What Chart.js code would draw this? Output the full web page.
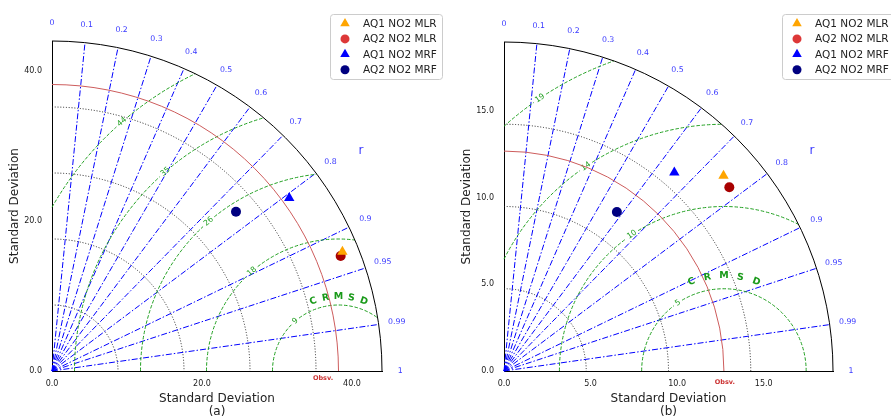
<!DOCTYPE html>
<html>
<head>
<meta charset="utf-8">
<script src="https://cdn.jsdelivr.net/npm/chart.js@4.4.1/dist/chart.umd.min.js"></script>
<style>
    html, body { margin: 0; padding: 0; background: #fff; }
    #wrap { position: relative; width: 891px; height: 416px; overflow: hidden; }
    canvas { position: absolute; top: 0; }
    #chartA { left: 0; }
    #chartB { left: 450px; }
</style>
</head>
<body>
<div id="wrap">
    <canvas id="chartA" width="450" height="416"></canvas>
    <canvas id="chartB" width="441" height="416"></canvas>
</div>
<script>
// ---- data ----
const seriesNames = ["AQ1 NO2 MLR", "AQ2 NO2 MLR", "AQ1 NO2 MRF", "AQ2 NO2 MRF"];

// panel (a)
const stdA = [41.86, 41.43, 39.15, 32.45];
const corrA = [0.925, 0.929, 0.808, 0.756];
const refStdA = 38.2;
const maxStdA = 44;
const axisTicksA = [0, 20, 40];
const sdGridA = [8.8, 17.6, 26.4, 35.2];
const rmsLevelsA = [8.8, 17.6, 26.4, 35.2, 44];

// panel (b)
const stdB = [16.97, 16.79, 15.11, 11.26];
const corrB = [0.747, 0.775, 0.651, 0.579];
const refStdB = 12.7;
const maxStdB = 19;
const axisTicksB = [0, 5, 10, 15];
const sdGridB = [4.75, 9.5, 14.25];
const rmsLevelsB = [4.75, 9.5, 14.25, 19];

const corrTicks = [0, 0.1, 0.2, 0.3, 0.4, 0.5, 0.6, 0.7, 0.8, 0.9, 0.95, 0.99, 1];

// ---- styles ----
const markerStyles = ["triangle", "circle", "triangle", "circle"];
const markerSizes = [6, 5, 6, 5];
const markerColors = ["#ffa500", "#a80000", "#0000ff", "#000080"];
const legendColors = ["#ffa500", "#dd3838", "#0000ff", "#000080"];
const FONT = "'DejaVu Sans', sans-serif";
const GREEN = "#22a022";
const BLUE_TXT = "#3a3aff";

Chart.defaults.font.family = FONT;

function drawMarker(ctx, style, r, x, y, color) {
    ctx.fillStyle = color;
    if (Chart.helpers && Chart.helpers.drawPoint) {
        Chart.helpers.drawPoint(ctx, { pointStyle: style, radius: r, rotation: 0, borderWidth: 0 }, x, y);
        return;
    }
    ctx.beginPath();
    if (style === "circle") ctx.arc(x, y, r, 0, Math.PI * 2);
    else {
        for (let i = 0; i < 3; i++) {
            const a = i * 2 * Math.PI / 3;
            ctx.lineTo(x + Math.sin(a) * r, y - Math.cos(a) * r);
        }
        ctx.closePath();
    }
    ctx.fill();
}

function taylorPlugin(p) {
    return {
        id: "taylor",
        beforeDatasetsDraw(chart) {
            const { ctx } = chart;
            const { x, y } = chart.scales;
            const ox = x.getPixelForValue(0), oy = y.getPixelForValue(0);
            const k = x.getPixelForValue(1) - ox;
            const toPx = (sd, ang) => [x.getPixelForValue(sd * Math.cos(ang)), y.getPixelForValue(sd * Math.sin(ang))];

            ctx.save();
            ctx.lineWidth = 1;

            // dotted standard deviation arcs
            ctx.strokeStyle = "#222";
            ctx.setLineDash([1, 1.8]);
            p.sdGrid.forEach(s => {
                ctx.beginPath();
                ctx.arc(ox, oy, s * k, -Math.PI / 2, 0);
                ctx.stroke();
            });

            // correlation rays
            ctx.strokeStyle = "#0000ff";
            ctx.setLineDash([6, 2, 1.5, 2]);
            corrTicks.forEach(r => {
                if (r <= 0 || r >= 1) return;
                const [ex, ey] = toPx(p.maxStd, Math.acos(r));
                ctx.beginPath();
                ctx.moveTo(ox, oy);
                ctx.lineTo(ex, ey);
                ctx.stroke();
            });

            // centred RMS difference contours
            const cx = x.getPixelForValue(p.refStd), cy = oy;
            const la = p.rmsLabelAngle * Math.PI / 180;
            const c = p.refStd, M = p.maxStd;
            ctx.font = "7.8px " + FONT;
            ctx.textAlign = "center";
            ctx.textBaseline = "middle";
            p.rmsLevels.forEach(R => {
                const clamp = v => Math.max(-1, Math.min(1, v));
                const lo = Math.acos(clamp((M * M - c * c - R * R) / (2 * c * R)));
                const hi = Math.acos(clamp(-c / R));
                if (lo >= hi) return;
                const rp = R * k;
                const txt = String(Math.round(R));
                const half = (ctx.measureText(txt).width / 2 + 2.5) / rp;
                const hasLabel = la - half > lo && la + half < hi;
                const segs = hasLabel ? [[lo, la - half], [la + half, hi]] : [[lo, hi]];
                ctx.strokeStyle = GREEN;
                ctx.setLineDash([3.5, 1.8]);
                segs.forEach(([a0, a1]) => {
                    ctx.beginPath();
                    ctx.arc(cx, cy, rp, -a1, -a0);
                    ctx.stroke();
                });
                if (hasLabel) {
                    ctx.save();
                    ctx.translate(cx + rp * Math.cos(la), cy - rp * Math.sin(la));
                    ctx.rotate(Math.PI / 2 - la);
                    ctx.fillStyle = GREEN;
                    ctx.fillText(txt, 0, 0);
                    ctx.restore();
                }
            });

            // "CRMSD" written along an arc
            ctx.font = "bold 9.5px " + FONT;
            ctx.fillStyle = "#1a9a1a";
            const lr = p.rmsLevels[0] * p.crmsdFactor * k;
            ["C", "R", "M", "S", "D"].forEach((ch, i) => {
                const a = (110 - i * 10) * Math.PI / 180;
                ctx.save();
                ctx.translate(cx + lr * Math.cos(a), cy - lr * Math.sin(a));
                ctx.rotate(Math.PI / 2 - a);
                ctx.fillText(ch, 0, 0);
                ctx.restore();
            });

            // observation arc
            ctx.setLineDash([]);
            ctx.strokeStyle = "#cd5c5c";
            ctx.beginPath();
            ctx.arc(ox, oy, p.refStd * k, -Math.PI / 2, 0);
            ctx.stroke();

            // outer arc
            ctx.strokeStyle = "#000";
            ctx.beginPath();
            ctx.arc(ox, oy, p.maxStd * k, -Math.PI / 2, 0);
            ctx.stroke();
            ctx.restore();
        },
        afterDraw(chart) {
            const { ctx } = chart;
            const { x, y } = chart.scales;
            const oy = y.getPixelForValue(0);
            const toPx = (sd, ang) => [x.getPixelForValue(sd * Math.cos(ang)), y.getPixelForValue(sd * Math.sin(ang))];
            ctx.save();
            ctx.textAlign = "center";
            ctx.textBaseline = "middle";

            // correlation labels
            ctx.fillStyle = BLUE_TXT;
            ctx.font = "7.8px " + FONT;
            corrTicks.forEach(r => {
                const [tx, ty] = toPx(p.maxStd * 1.055, Math.acos(r));
                ctx.fillText(String(r), tx, ty);
            });
            ctx.font = "12px " + FONT;
            const [rx, ry] = toPx(p.maxStd * 1.15, 35.5 * Math.PI / 180);
            ctx.fillText("r", rx, ry);

            // Obsv. label
            ctx.fillStyle = "#cc3333";
            ctx.font = "bold 6.5px " + FONT;
            ctx.fillText("Obsv.", x.getPixelForValue(p.refStd) + p.obsv[0], oy + p.obsv[1]);

            // legend
            const L = p.legend;
            ctx.fillStyle = "rgba(255,255,255,0.85)";
            ctx.strokeStyle = "#cccccc";
            ctx.lineWidth = 1;
            ctx.beginPath();
            if (ctx.roundRect) ctx.roundRect(L.x + 0.5, L.y + 0.5, L.w, L.h, 3);
            else ctx.rect(L.x + 0.5, L.y + 0.5, L.w, L.h);
            ctx.fill();
            ctx.stroke();
            ctx.textAlign = "left";
            ctx.font = "10.5px " + FONT;
            seriesNames.forEach((name, i) => {
                const ly = L.y + 9.5 + i * 15.4;
                drawMarker(ctx, markerStyles[i], markerSizes[i] - 0.5, L.x + 15, ly, legendColors[i]);
                ctx.fillStyle = "#222";
                ctx.fillText(name, L.x + 33, ly + 0.5);
            });
            ctx.restore();
        }
    };
}

function axisOpts(ticks, max, position, titleText, fitSize, titlePad) {
    const horizontal = position === "bottom";
    return {
        type: "linear",
        position,
        min: 0,
        max,
        grid: { display: false, drawTicks: false },
        border: { display: true, color: "#000", width: 1 },
        ticks: {
            font: { size: 8 },
            color: "#1a1a1a",
            padding: horizontal ? 8 : 10,
            autoSkip: false,
            maxRotation: 0,
            callback: v => Number(v).toFixed(1),
        },
        afterBuildTicks: s => { s.ticks = ticks.map(v => ({ value: v })); },
        afterFit: s => { if (horizontal) s.height = fitSize; else s.width = fitSize; },
        title: {
            display: true,
            text: titleText,
            color: "#222",
            font: { size: 12, lineHeight: 1.05 },
            padding: horizontal ? { top: 0, bottom: -2 } : { top: titlePad, bottom: 0 },
        },
    };
}

function makePanel(id, p) {
    const datasets = seriesNames.map((name, i) => ({
        label: name,
        data: [{ x: p.std[i] * p.corr[i], y: p.std[i] * Math.sqrt(1 - p.corr[i] * p.corr[i]) }],
        pointStyle: markerStyles[i],
        pointRadius: markerSizes[i],
        pointHoverRadius: markerSizes[i],
        backgroundColor: markerColors[i],
        borderColor: markerColors[i],
        borderWidth: 0,
        showLine: false,
    }));
    return new Chart(document.getElementById(id), {
        type: "scatter",
        data: { datasets },
        options: {
            responsive: false,
            animation: false,
            events: [],
            layout: { padding: p.padding },
            plugins: { legend: { display: false }, tooltip: { enabled: false } },
            scales: {
                x: axisOpts(p.ticks, p.maxStd, "bottom", ["Standard Deviation", p.tag], 45),
                y: axisOpts(p.ticks, p.maxStd, "left", "Standard Deviation", p.yWidth, p.yTitlePad),
            },
        },
        plugins: [taylorPlugin(p)],
    });
}

makePanel("chartA", {
    std: stdA, corr: corrA, refStd: refStdA, maxStd: maxStdA,
    ticks: axisTicksA, sdGrid: sdGridA, rmsLevels: rmsLevelsA,
    tag: "(a)", rmsLabelAngle: 131, crmsdFactor: 1.125, obsv: [-15.5, 7],
    padding: { left: 0, top: 41, right: 68, bottom: 0 }, yWidth: 52, yTitlePad: 9,
    legend: { x: 330, y: 14, w: 112, h: 65 },
});

makePanel("chartB", {
    std: stdB, corr: corrB, refStd: refStdB, maxStd: maxStdB,
    ticks: axisTicksB, sdGrid: sdGridB, rmsLevels: rmsLevelsB,
    tag: "(b)", rmsLabelAngle: 124, crmsdFactor: 1.155, obsv: [1, 11.7],
    padding: { left: 0, top: 42, right: 58, bottom: 0 }, yWidth: 54, yTitlePad: 11,
    legend: { x: 332, y: 14, w: 112, h: 65 },
});
</script>
</body>
</html>
